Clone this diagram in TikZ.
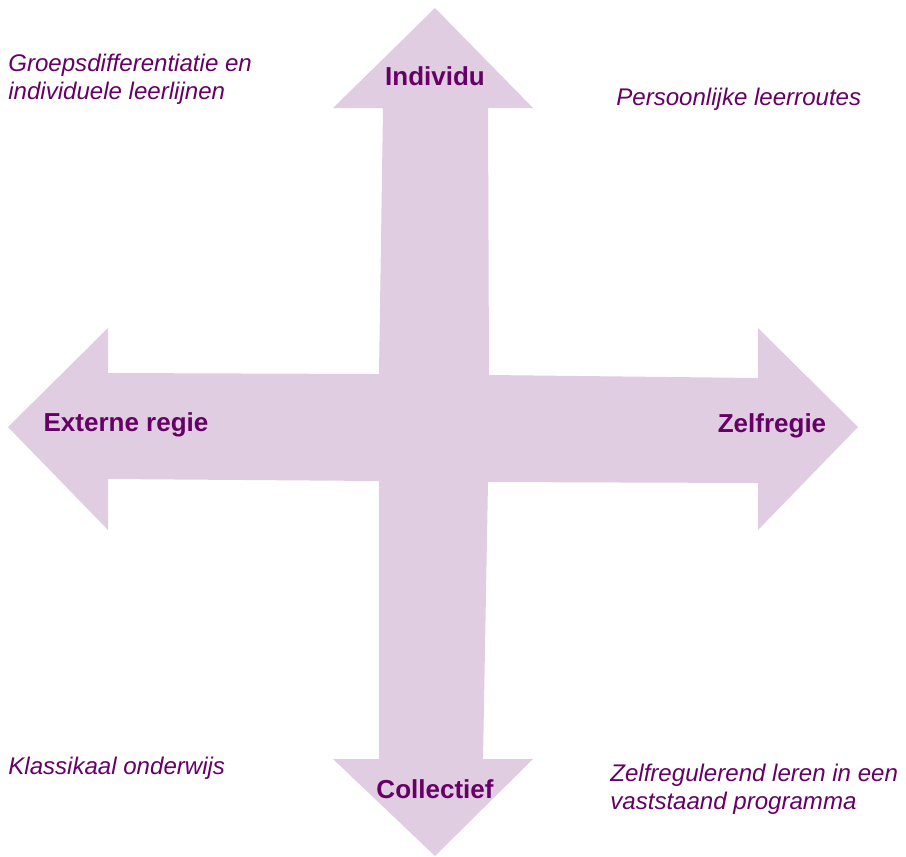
\documentclass[tikz,border=0pt]{standalone}
\usepackage{fontspec}
\setmainfont{Liberation Sans}
\usepackage{tikz}

\definecolor{lilac}{RGB}{224,205,225}
\definecolor{plum}{RGB}{102,0,102}

\tikzset{
    axislabel/.style={text=plum, inner sep=0pt, font=\bfseries\fontsize{14.8}{17}\selectfont},
    quadrant/.style={text=plum, inner sep=0pt, anchor=west, align=left, font=\itshape\fontsize{13.7}{15.9}\selectfont}
}

\begin{document}
\begin{tikzpicture}[x=0.02cm, y=-0.02cm]
    \useasboundingbox (0, 0) rectangle (906, 856);

    % the cross of four arrows
    \fill[lilac] (435, 8) -- (533, 108) -- (488, 108) -- (489, 375) -- (758, 378)
        -- (758, 328) -- (858, 427) -- (758, 530) -- (758, 483) -- (488, 482)
        -- (483, 759) -- (533, 759) -- (435, 856) -- (333, 759) -- (379, 759)
        -- (379, 481) -- (108, 479) -- (108, 530) -- (8, 427) -- (108, 328)
        -- (108, 373) -- (379, 374) -- (383, 108) -- (333, 108) -- cycle;

    \node[axislabel] (individu) at (435, 76) {Individu};
    \node[axislabel] (collectief) at (435, 789) {Collectief};
    \node[axislabel] (extern) at (126, 425) {Externe regie};
    \node[axislabel] (zelf) at (772, 426) {Zelfregie};

    \node[quadrant] (lb) at (8, 79) {Groepsdifferentiatie en\\individuele leerlijnen};
    \node[quadrant] (rb) at (616, 99) {Persoonlijke leerroutes};
    \node[quadrant] (lo) at (8, 768) {Klassikaal onderwijs};
    \node[quadrant] (ro) at (610, 789) {Zelfregulerend leren in een\\vaststaand programma};
\end{tikzpicture}
\end{document}
